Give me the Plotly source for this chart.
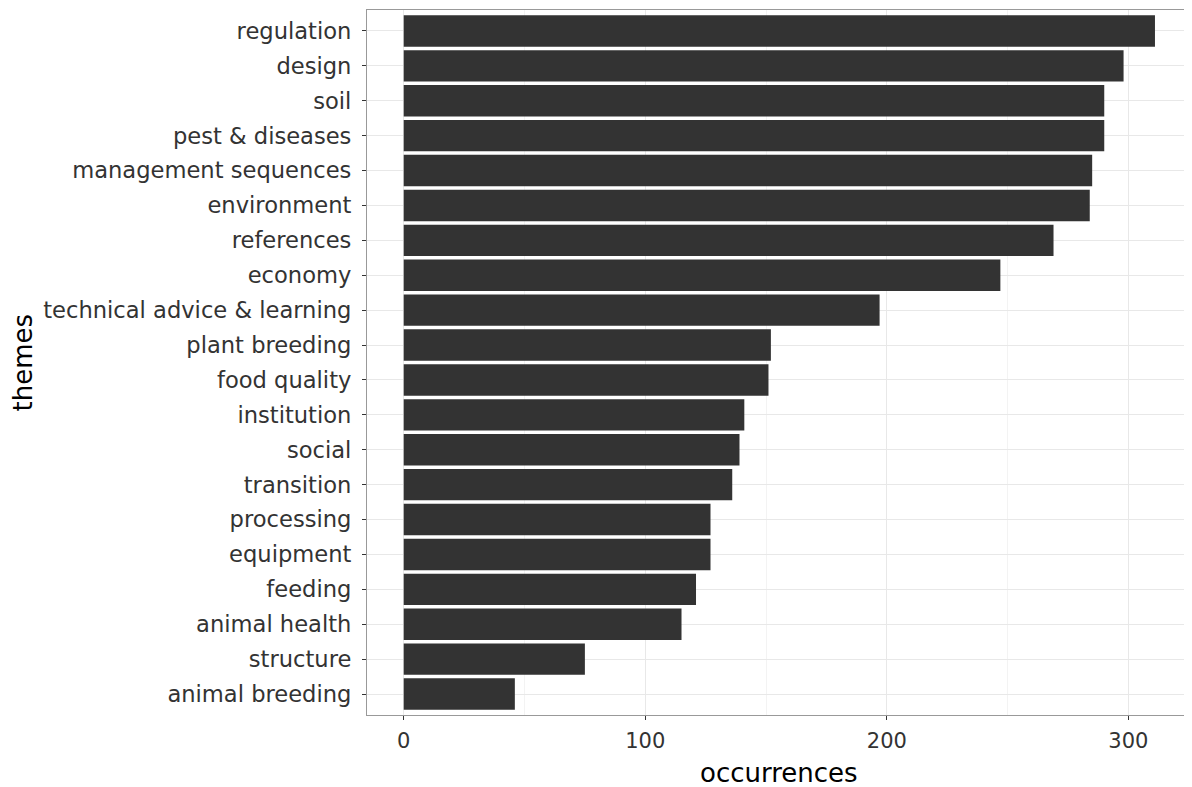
import plotly.graph_objects as go

themes = ["regulation", "design", "soil", "pest & diseases", "management sequences",
          "environment", "references", "economy", "technical advice & learning",
          "plant breeding", "food quality", "institution", "social", "transition",
          "processing", "equipment", "feeding", "animal health", "structure",
          "animal breeding"]
occurrences = [311, 298, 290, 290, 285, 284, 269, 247, 197, 152, 151, 141, 139, 136,
               127, 127, 121, 115, 75, 46]
x_ticks = [0, 100, 200, 300]
x_minor = [50, 150, 250]

# plot bottom-to-top (ggplot ordering)
cats = themes[::-1]
vals = occurrences[::-1]

fig = go.Figure(go.Bar(
    x=vals, y=cats, orientation="h",
    marker=dict(color="#333333", line=dict(width=0)),
    width=0.9,
))

font = "DejaVu Sans, Liberation Sans, Arial, sans-serif"
# page body has an 8px margin: compensate in the figure size/margins
fig.update_layout(
    width=1184, height=779,
    margin=dict(l=359, r=2, t=2, b=72),
    paper_bgcolor="white", plot_bgcolor="white",
    showlegend=False,
    font=dict(family=font, color="#333333", size=22),
    xaxis=dict(
        range=[-15.2, 325.5], tickvals=x_ticks,
        showgrid=True, gridcolor="#E8E8E8", gridwidth=1.3,
        minor=dict(tickvals=x_minor, showgrid=True, gridcolor="#F3F3F3", gridwidth=0.9, ticks=""),
        zeroline=False,
        ticks="outside", ticklen=4, tickcolor="#333333", tickwidth=1.2,
        tickfont=dict(size=21, color="#333333", family=font),
        ticklabelstandoff=3,
        showline=True, mirror=True, linecolor="#999999", linewidth=1.2,
    ),
    yaxis=dict(
        categoryorder="array", categoryarray=cats,
        range=[-0.6, 19.6],
        showgrid=True, gridcolor="#E8E8E8", gridwidth=1.3,
        zeroline=False,
        ticks="outside", ticklen=4, tickcolor="#333333", tickwidth=1.2,
        tickfont=dict(size=22.6, color="#333333", family=font),
        ticklabelstandoff=6,
        showline=True, mirror=True, linecolor="#999999", linewidth=1.2,
    ),
    annotations=[
        dict(text="occurrences", xref="paper", yref="paper", x=0.5, y=0,
             yshift=-58, showarrow=False, yanchor="middle",
             font=dict(size=26, color="#000000", family=font)),
        dict(text="themes", xref="paper", yref="paper", x=0, y=0.5,
             xshift=-345, showarrow=False, textangle=-90,
             xanchor="center", font=dict(size=26, color="#000000", family=font)),
    ],
)

fig.write_html("out.html")
